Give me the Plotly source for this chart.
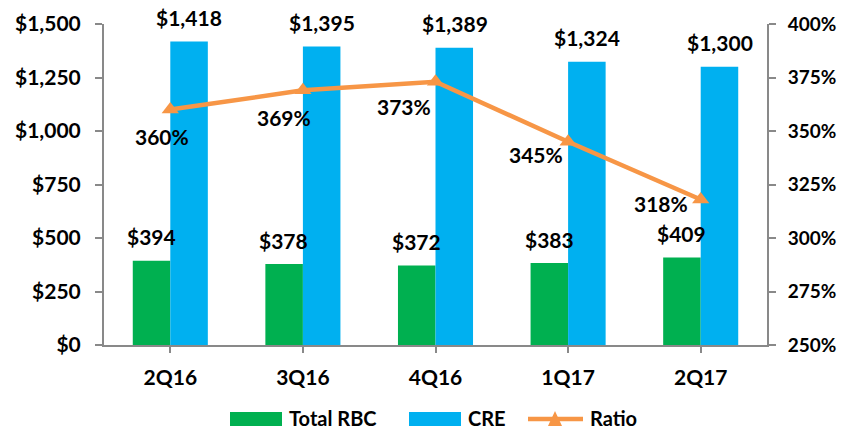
import plotly.graph_objects as go

quarters = ["2Q16", "3Q16", "4Q16", "1Q17", "2Q17"]
total_rbc = [394, 378, 372, 383, 409]
cre = [1418, 1395, 1389, 1324, 1300]
ratio = [360, 369, 373, 345, 318]
series_names = ["Total RBC", "CRE", "Ratio"]

GREEN = "#00B050"
BLUE = "#00B0F0"
ORANGE = "#F79646"
AXIS = "#898989"
FONT = "Lato"

W, H = 843, 430
PL, PR, PT, PB = 104, 767, 24, 345          # plot area in window pixels
ML, MR, MT, MB = PL, W - PR, PT, H - PB
PW, PH = PR - PL, PB - PT


def px(xp):
    return (xp - PL) / PW


def py(yp):
    return (PB - yp) / PH


# label offsets (pixels) for ratio labels, styling only
ratio_label_dx = [-8, -19, -32, -32, -40]
ratio_label_dy = [-27, -27, -25, -13, -4]

fig = go.Figure()
fig.add_trace(go.Bar(x=quarters, y=total_rbc, name=series_names[0],
                     marker=dict(color=GREEN, line=dict(width=0))))
fig.add_trace(go.Bar(x=quarters, y=cre, name=series_names[1],
                     marker=dict(color=BLUE, line=dict(width=0))))
fig.add_trace(go.Scatter(x=quarters, y=ratio, name=series_names[2], yaxis="y2",
                         mode="lines+markers",
                         line=dict(color=ORANGE, width=4.5),
                         marker=dict(symbol="triangle-up", size=15, color=ORANGE)))

lab_font = dict(family=FONT, size=21, color="black", weight="bold")
annotations = []
for i, q in enumerate(quarters):
    annotations.append(dict(x=i, y=total_rbc[i], xref="x", yref="y",
                            text="$" + format(total_rbc[i], ","), showarrow=False,
                            xshift=-19, yshift=24, yanchor="middle", font=lab_font))
    annotations.append(dict(x=i, y=cre[i], xref="x", yref="y",
                            text="$" + format(cre[i], ","), showarrow=False,
                            xshift=19, yshift=24, yanchor="middle", font=lab_font))
    annotations.append(dict(x=i, y=ratio[i], xref="x", yref="y2",
                            text=f"{ratio[i]}%", showarrow=False,
                            xshift=ratio_label_dx[i], yshift=ratio_label_dy[i],
                            yanchor="middle", font=lab_font))

# custom legend (larger swatches like the original)
leg_y = 418
leg_font = dict(family=FONT, size=20, color="black", weight="bold")
shapes = [
    dict(type="rect", xref="paper", yref="paper", x0=px(230), x1=px(282),
         y0=py(426), y1=py(412), fillcolor=GREEN, line=dict(width=0)),
    dict(type="rect", xref="paper", yref="paper", x0=px(409), x1=px(461),
         y0=py(426), y1=py(412), fillcolor=BLUE, line=dict(width=0)),
    dict(type="line", xref="paper", yref="paper", x0=px(528), x1=px(583),
         y0=py(leg_y + 1), y1=py(leg_y + 1), line=dict(color=ORANGE, width=4.5)),
    dict(type="path", xref="paper", yref="paper",
         path=f"M {px(548)} {py(426)} L {px(562)} {py(426)} L {px(555)} {py(411)} Z",
         fillcolor=ORANGE, line=dict(width=0)),
]
for xt, name in zip([287, 466, 588], series_names):
    annotations.append(dict(x=px(xt), y=py(leg_y), xref="paper", yref="paper",
                            text=name, showarrow=False, xanchor="left",
                            yanchor="middle", font=leg_font))

tickfont = dict(family=FONT, size=21, color="black", weight="bold")
rtickfont = dict(family=FONT, size=19, color="black", weight="bold")

fig.update_layout(
    width=W, height=H,
    margin=dict(l=ML, r=MR, t=MT, b=MB, autoexpand=False),
    paper_bgcolor="white", plot_bgcolor="white",
    barmode="group", bargap=0.434, bargroupgap=0,
    showlegend=False,
    xaxis=dict(showline=True, linecolor=AXIS, linewidth=2, ticks="outside",
               ticklen=6, tickwidth=2, tickcolor=AXIS, tickfont=tickfont,
               ticklabelstandoff=7,
               showgrid=False, zeroline=False, automargin=False),
    yaxis=dict(range=[0, 1500], dtick=250, tickprefix="$", tickformat=",",
               showline=True, linecolor=AXIS, linewidth=2, ticks="outside",
               ticklen=7, tickwidth=2, tickcolor=AXIS, tickfont=tickfont,
               ticklabelstandoff=10,
               showgrid=False, zeroline=False, automargin=False),
    yaxis2=dict(range=[250, 400], dtick=25, ticksuffix="%", overlaying="y",
                side="right", showline=True, linecolor=AXIS, linewidth=2,
                ticks="outside", ticklen=7, tickwidth=2, tickcolor=AXIS,
                tickfont=rtickfont, ticklabelstandoff=8,
                showgrid=False, zeroline=False, automargin=False),
    annotations=annotations,
    shapes=shapes,
)

# remove the browser's default 8px page margin so the figure fills the window
fig.write_html("out.html",
               config={"displayModeBar": False},
               post_script="document.body.style.margin='0';"
                           "document.body.style.overflow='hidden';")
